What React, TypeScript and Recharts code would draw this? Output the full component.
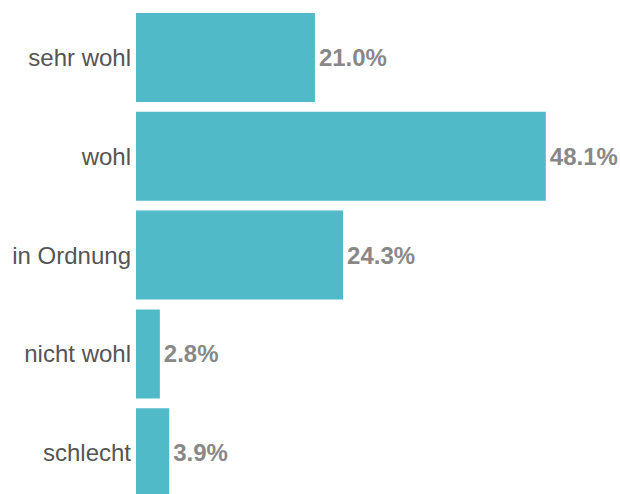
import { BarChart, Bar, XAxis, YAxis, LabelList } from "recharts"

const categories = ["sehr wohl", "wohl", "in Ordnung", "nicht wohl", "schlecht"]
const shares = [21.0, 48.1, 24.3, 2.8, 3.9]

const data = categories.map((name, i) => ({ name, value: shares[i] }))

const font = "'Liberation Sans', Arial, Helvetica, sans-serif"

export default function App() {
  return (
    <div style={{ position: "absolute", left: 0, top: 0, width: 620, height: 494, overflow: "hidden", background: "#fff" }}>
      <BarChart
        width={620}
        height={510}
        data={data}
        layout="vertical"
        margin={{ top: 8, right: 58, bottom: 8, left: 0 }}
        barCategoryGap={5}
      >
        <XAxis type="number" domain={[0, 50]} hide />
        <YAxis
          type="category"
          dataKey="name"
          width={136}
          axisLine={false}
          tickLine={false}
          tickSize={0}
          tickMargin={5}
          tick={{ fill: "#555", fontSize: 24, fontFamily: font }}
        />
        <Bar dataKey="value" fill="#50bac8" isAnimationActive={false}>
          <LabelList
            dataKey="value"
            position="right"
            offset={4}
            formatter={(v: any) => `${Number(v).toFixed(1)}%`}
            style={{ fill: "#888", fontSize: 24, fontWeight: "bold", fontFamily: font }}
          />
        </Bar>
      </BarChart>
    </div>
  )
}
